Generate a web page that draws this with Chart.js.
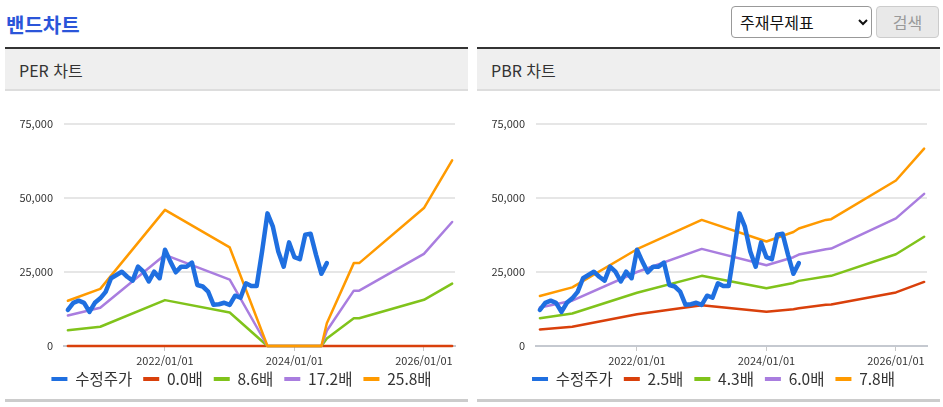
<!DOCTYPE html>
<html lang="ko">
<head>
<meta charset="utf-8">
<script src="https://cdn.jsdelivr.net/npm/chart.js@4.4.1/dist/chart.umd.min.js"></script>
<style>
html,body{margin:0;padding:0;background:#fff;}
body{width:943px;height:407px;position:relative;overflow:hidden;font-family:'Noto Sans CJK KR','Noto Sans',sans-serif;}
.title{position:absolute;left:6px;top:12px;height:26px;line-height:26px;font-size:20px;font-weight:bold;color:#2b55d9;}
select{position:absolute;left:731px;top:6px;width:141px;height:32px;font-size:16px;font-family:inherit;border:1px solid #999;border-radius:4px;background:#fff;color:#111;padding:0 4px;margin:0;}
button{position:absolute;left:876px;top:6px;width:63px;height:32px;font-size:16px;font-family:inherit;border:1px solid #ccc;border-radius:4px;background:#e9e9e9;color:#9a9a9a;padding:0;margin:0;}
.panel{position:absolute;top:47px;width:463px;height:350px;border-top:2px solid #333;border-bottom:3px solid #ccc;}
.head{height:40px;line-height:40px;background:#efefef;border-bottom:2px solid #ddd;padding-left:14px;font-size:16px;color:#333;}
.head span{position:relative;top:1px;}
canvas{display:block;}
</style>
</head>
<body>
<div class="title">밴드차트</div>
<select><option>주재무제표</option></select>
<button disabled>검색</button>
<div class="panel" style="left:5px;"><div class="head"><span>PER 차트</span></div><canvas id="per" width="463" height="308"></canvas></div>
<div class="panel" style="left:477px;"><div class="head"><span>PBR 차트</span></div><canvas id="pbr" width="463" height="308"></canvas></div>
<script>
// ---- data ----
const priceMonths = ['2020/07','2020/08','2020/09','2020/10','2020/11','2020/12',
  '2021/01','2021/02','2021/03','2021/04','2021/05','2021/06','2021/07','2021/08','2021/09','2021/10','2021/11','2021/12',
  '2022/01','2022/02','2022/03','2022/04','2022/05','2022/06','2022/07','2022/08','2022/09','2022/10','2022/11','2022/12',
  '2023/01','2023/02','2023/03','2023/04','2023/05','2023/06','2023/07','2023/08','2023/09','2023/10','2023/11','2023/12',
  '2024/01','2024/02','2024/03','2024/04','2024/05','2024/06','2024/07'];
const priceValues = [12200,14600,15300,14600,11500,14600,
  16100,18300,22900,24000,25100,23400,22100,26800,25100,21800,25100,22900,
  32500,28500,24900,26800,26800,28200,20600,20100,18400,13900,14100,14600,
  13900,17000,16300,21200,20300,20300,32000,44800,40300,31900,26800,35000,
  30000,29300,37600,37900,30800,24400,28000];

const perBandDates = ['2020/07','2021/01','2022/01','2023/01','2023/08','2024/01','2024/06','2024/07','2024/12','2025/01','2026/01','2026/06/08'];
const per00 = [0,0,0,0,0,0,0,0,0,0,0,0];
const per86 = [5300,6500,15500,11300,0,0,0,2560,9400,9400,15600,21100];
const per172 = [10300,12900,30800,22400,0,0,0,5130,18700,18700,31100,41900];
const per258 = [15300,19300,46000,33300,0,0,0,7700,28000,28000,46600,62700];
const perLabels = ['수정주가','0.0배','8.6배','17.2배','25.8배'];

const pbrBandDates = ['2020/07','2021/01','2022/01','2023/01','2024/01','2024/06','2024/07','2024/12','2025/01','2026/01','2026/06/08'];
const pbr25 = [5600,6500,10700,13800,11600,12450,12750,13900,14000,18100,21650];
const pbr43 = [9400,11000,18000,23700,19500,21300,22000,23500,23700,31000,36900];
const pbr60 = [13000,15300,25000,32800,27300,30000,30900,32700,32900,43100,51400];
const pbr78 = [16900,19800,32700,42600,35300,38500,39700,42600,42850,55900,66700];
const pbrLabels = ['수정주가','2.5배','4.3배','6.0배','7.8배'];

const xTickValues = [2022, 2024, 2026];
const xTickLabels = ['2022/01/01','2024/01/01','2026/01/01'];
const yTickValues = [0, 25000, 50000, 75000];

// ---- helpers ----
const colors = ['#1f6fe0','#d9400b','#80c31b','#a97ddf','#ff9a00'];
function toYear(s){ const p = s.split('/').map(Number); return p[0] + (p[1]-1)/12 + ((p[2]||1)-1)/365; }
function pts(dates, vals){ return dates.map((d,i)=>({x:toYear(d), y:vals[i]})); }

Chart.defaults.font.family = "'Noto Sans CJK KR','Noto Sans',sans-serif";

const legendPlace = {
  id: 'legendPlace',
  afterLayout(chart) {
    const lg = chart.legend;
    if (!lg) return;
    const dx = 11.5;
    lg.left += dx; lg.right += dx;
    const dy = 269.25 - lg.top;
    lg.top += dy; lg.bottom += dy;
  }
};

function makeChart(id, bandDates, bands, labels){
  const datasets = [{
    label: labels[0], data: pts(priceMonths, priceValues),
    borderColor: colors[0], backgroundColor: colors[0], borderWidth: 4.5, order: 0, clip: 4
  }];
  for (let i = 0; i < bands.length; i++) {
    datasets.push({
      label: labels[i+1], data: pts(bandDates, bands[i]),
      borderColor: colors[i+1], backgroundColor: colors[i+1], borderWidth: 2.5, order: 4 - i, clip: 4
    });
  }
  return new Chart(document.getElementById(id), {
    type: 'line',
    data: { datasets },
    plugins: [legendPlace],
    options: {
      responsive: false, animation: false, events: [],
      parsing: false,
      elements: { point: { radius: 0 }, line: { tension: 0, borderJoinStyle: 'round', borderCapStyle: 'round' } },
      layout: { padding: { left: 0, right: 13, top: 33, bottom: 1 } },
      plugins: {
        tooltip: { enabled: false },
        legend: {
          position: 'bottom', maxHeight: 28,
          labels: {
            boxWidth: 16, boxHeight: 4, padding: 11, color: '#333',
            font: { size: 15.5 },
            generateLabels: (chart) => {
              const items = Chart.defaults.plugins.legend.labels.generateLabels(chart);
              items.forEach(it => { it.fillStyle = it.strokeStyle; it.lineWidth = 0; });
              return items.sort((a,b) => a.datasetIndex - b.datasetIndex);
            }
          }
        }
      },
      scales: {
        x: {
          type: 'linear', min: 2020.44, max: 2026.48,
          afterBuildTicks: s => { s.ticks = xTickValues.map(v => ({ value: v })); },
          afterFit: s => { s.height = 24; },
          ticks: {
            callback: v => { const i = xTickValues.indexOf(v); return i >= 0 ? xTickLabels[i] : ''; },
            font: { size: 11 }, color: '#333', padding: 3, maxRotation: 0, autoSkip: false
          },
          grid: { z: -1, drawOnChartArea: false, drawTicks: true, tickLength: 5, color: '#c8c8c8', lineWidth: 1 },
          border: { display: true, color: '#c5c9d0', width: 2 }
        },
        y: {
          min: 0, max: 75000,
          afterBuildTicks: s => { s.ticks = yTickValues.map(v => ({ value: v })); },
          afterFit: s => { s.width = 59; },
          ticks: { callback: v => Number(v).toLocaleString('en-US'), font: { size: 11 }, color: '#333', padding: 11 },
          grid: { z: -1, color: '#e6e6e6', lineWidth: 2, drawTicks: false },
          border: { display: false }
        }
      }
    }
  });
}

makeChart('per', perBandDates, [per00, per86, per172, per258], perLabels);
makeChart('pbr', pbrBandDates, [pbr25, pbr43, pbr60, pbr78], pbrLabels);
</script>
</body>
</html>
